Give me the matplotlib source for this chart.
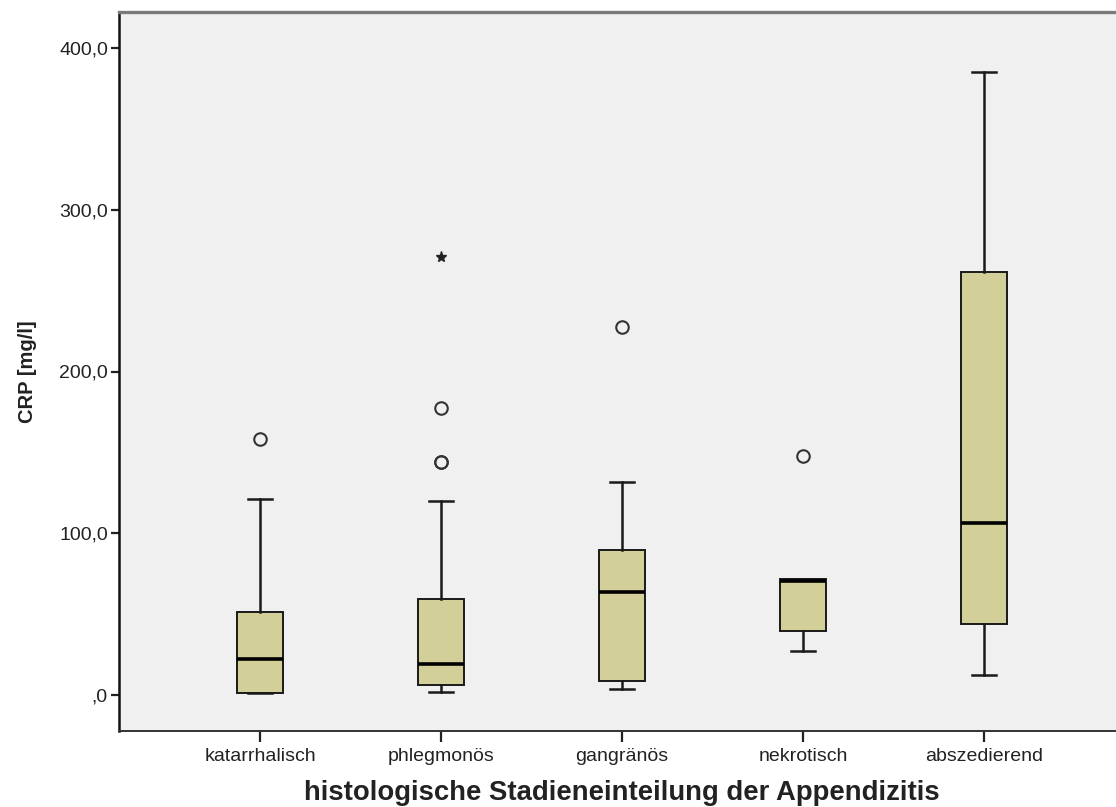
import matplotlib
matplotlib.use("Agg")
import matplotlib.pyplot as plt
from matplotlib.ticker import FuncFormatter

plt.rcParams["font.family"] = ["Liberation Sans", "DejaVu Sans"]

# CRP by histological stage (mg/l)
stages = ["katarrhalisch", "phlegmonös", "gangränös", "nekrotisch", "abszedierend"]
medians = [22.3, 19.2, 63.7, 70.5, 106.6]
q1 = [1.2, 6.2, 8.7, 39.6, 43.9]
q3 = [51.3, 59.4, 89.6, 71.7, 261.5]
whisk_lo = [1.2, 1.9, 3.7, 27.2, 12.4]
whisk_hi = [121.2, 120.0, 131.7, 71.7, 385.0]
outliers = [[158.3], [143.8, 144.3, 177.4], [227.5], [147.8], []]
extremes = [[], [270.8], [], [], []]
yticks = [0, 100, 200, 300, 400]

BOX = "#d3cf98"
PANEL = "#f0f0f0"
INK = "#222222"


def fmt_tick(v, _):
    s = f"{v:.1f}".replace(".", ",")
    return s.lstrip("0") if v == 0 else s


fig = plt.figure(figsize=(11.16, 8.07), dpi=100)
ax = fig.add_axes([119 / 1116, 76 / 807, (1125 - 119) / 1116, 719 / 807])
ax.set_facecolor(PANEL)

pos = list(range(1, len(stages) + 1))
stats = [dict(med=m, q1=a, q3=b, whislo=lo, whishi=hi, fliers=f)
         for m, a, b, lo, hi, f in zip(medians, q1, q3, whisk_lo, whisk_hi, outliers)]
ax.bxp(stats, positions=pos, widths=0.254, patch_artist=True,
       boxprops=dict(facecolor=BOX, edgecolor="#1a1a1a", linewidth=1.4),
       medianprops=dict(color="black", linewidth=2.6, solid_capstyle="butt"),
       whiskerprops=dict(color="#1a1a1a", linewidth=1.8),
       capprops=dict(color="#1a1a1a", linewidth=1.8),
       capwidths=0.135,
       flierprops=dict(marker="o", markersize=9, markerfacecolor="none",
                       markeredgecolor="#333333", markeredgewidth=1.5))

for p, ext in zip(pos, extremes):
    if ext:
        ax.plot([p] * len(ext), ext, linestyle="none", marker="*", markersize=8,
                color="#222222")

ax.set_xlim(0.22, 5.78)
ax.set_ylim(-22.3, 422.3)
ax.set_yticks(yticks)
ax.yaxis.set_major_formatter(FuncFormatter(fmt_tick))
ax.set_xticks(pos)
ax.set_xticklabels(stages)
ax.tick_params(axis="both", direction="out", length=6, width=1.6, colors="#222222",
               labelsize=14, labelcolor=INK)
ax.tick_params(axis="x", length=8, pad=4)
ax.tick_params(axis="y", pad=2)

ax.spines["right"].set_visible(False)
ax.spines["top"].set_color("#7a7a7a")
ax.spines["top"].set_linewidth(2.4)
ax.spines["left"].set_color("#111111")
ax.spines["left"].set_linewidth(1.8)
ax.spines["bottom"].set_color("#333333")
ax.spines["bottom"].set_linewidth(1.4)

ax.set_ylabel("CRP [mg/l]", fontsize=14.5, fontweight="bold", color=INK, labelpad=16)
ax.set_xlabel("histologische Stadieneinteilung der Appendizitis", fontsize=19.8,
              fontweight="bold", color=INK, labelpad=11)

fig.savefig("out.png", dpi=100, facecolor="white")
